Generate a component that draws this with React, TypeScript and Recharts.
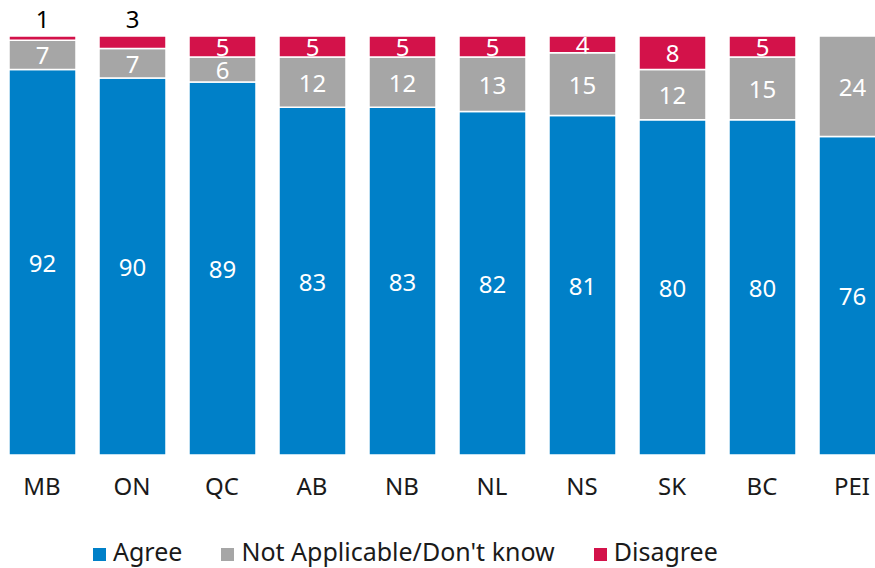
import React from 'react';
import { BarChart, Bar, XAxis, YAxis, Legend, LabelList } from 'recharts';

const provinces = ['MB', 'ON', 'QC', 'AB', 'NB', 'NL', 'NS', 'SK', 'BC', 'PEI'];
const agree = [92, 90, 89, 83, 83, 82, 81, 80, 80, 76];
const notApplicable = [7, 7, 6, 12, 12, 13, 15, 12, 15, 24];
const disagree = [1, 3, 5, 5, 5, 5, 4, 8, 5, 0];

const seriesNames = ['Agree', "Not Applicable/Don't know", 'Disagree'];
const colors = ['#0080C8', '#A6A6A6', '#D3124A'];

const data = provinces.map((p, i) => ({
  name: p,
  agree: agree[i],
  na: notApplicable[i],
  disagree: disagree[i],
}));

const FONT = '"Noto Sans", sans-serif';

const insideLabel = (props: any) => {
  const { x, y, width, height, value } = props;
  if (!value) return null;
  return (
    <text
      x={x + width / 2}
      y={y + height / 2}
      fill="#fff"
      fontSize={24}
      fontFamily={FONT}
      textAnchor="middle"
      dominantBaseline="central"
    >
      {value}
    </text>
  );
};

const disagreeLabel = (props: any) => {
  const { x, y, width, height, value } = props;
  if (!value) return null;
  if (value < 4) {
    return (
      <text
        x={x + width / 2}
        y={y - 18}
        fill="#000"
        fontSize={24}
        fontFamily={FONT}
        textAnchor="middle"
        dominantBaseline="central"
      >
        {value}
      </text>
    );
  }
  return insideLabel(props);
};

const renderLegend = () => (
  <div
    style={{
      height: 60,
      boxSizing: 'border-box',
      paddingTop: 31,
      paddingLeft: 96,
      fontFamily: FONT,
      fontSize: 25,
      lineHeight: '24px',
      color: '#1a1a1a',
      whiteSpace: 'nowrap',
    }}
  >
    {seriesNames.map((n, i) => (
      <span key={n} style={{ marginRight: i < 2 ? 39 : 0 }}>
        <span
          style={{
            display: 'inline-block',
            width: 13,
            height: 13,
            background: colors[i],
            marginRight: 7,
            verticalAlign: 'baseline',
          }}
        />
        {n}
      </span>
    ))}
  </div>
);

export default function App() {
  return (
    <div
      style={{
        position: 'absolute',
        left: 0,
        top: 0,
        width: 875,
        height: 568,
        overflow: 'hidden',
        background: '#fff',
      }}
    >
      <div style={{ position: 'absolute', left: -3, top: 0 }}>
        <BarChart
          width={900}
          height={568}
          data={data}
          margin={{ top: 36, right: 0, bottom: 0, left: 0 }}
          barSize={67}
          style={{ fontFamily: FONT }}
        >
          <XAxis
            dataKey="name"
            axisLine={false}
            tickLine={false}
            tickMargin={17}
            height={53}
            interval={0}
            tick={{ fontSize: 24, fill: '#1a1a1a', fontFamily: FONT }}
          />
          <YAxis hide domain={[0, 100]} />
          <Legend
            verticalAlign="bottom"
            content={renderLegend}
            wrapperStyle={{ left: 0, width: 900 }}
          />
          <Bar dataKey="agree" name={seriesNames[0]} stackId="a" fill={colors[0]} stroke="#fff" strokeWidth={1.5} isAnimationActive={false}>
            <LabelList dataKey="agree" content={insideLabel} />
          </Bar>
          <Bar dataKey="na" name={seriesNames[1]} stackId="a" fill={colors[1]} stroke="#fff" strokeWidth={1.5} isAnimationActive={false}>
            <LabelList dataKey="na" content={insideLabel} />
          </Bar>
          <Bar dataKey="disagree" name={seriesNames[2]} stackId="a" fill={colors[2]} stroke="#fff" strokeWidth={1.5} isAnimationActive={false}>
            <LabelList dataKey="disagree" content={disagreeLabel} />
          </Bar>
        </BarChart>
      </div>
    </div>
  );
}
